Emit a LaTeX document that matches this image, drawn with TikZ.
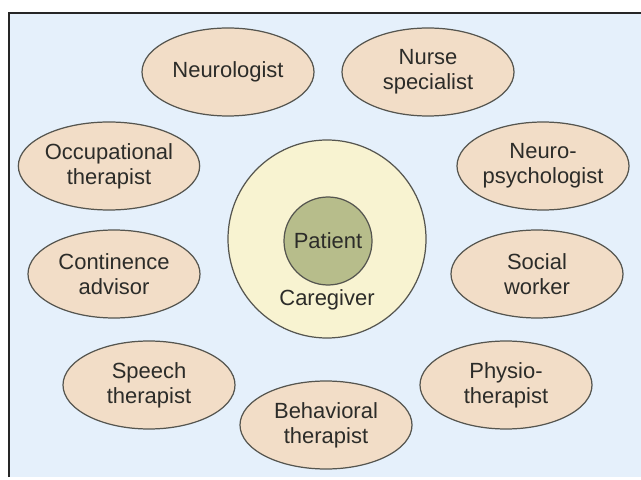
\documentclass[tikz,border=0pt]{standalone}
\usepackage{fontspec}
\setmainfont{Liberation Sans}
\usepackage{xcolor}
\usepackage{tikz}
\usetikzlibrary{shapes.geometric,positioning}
\definecolor{teamBg}{HTML}{E5F0FB}
\definecolor{teamPeach}{HTML}{F2DDC7}
\definecolor{careYellow}{HTML}{F8F3D1}
\definecolor{patientGreen}{HTML}{B7BD8B}
\definecolor{edgeGray}{HTML}{55554F}
\definecolor{ink}{HTML}{2C2C29}

\begin{document}
\begin{tikzpicture}[font=\fontsize{12.5}{14.2}\selectfont, text=ink,
  member/.style={ellipse,draw=edgeGray,line width=0.7pt,fill=teamPeach,
    minimum width=3.44cm,minimum height=1.76cm,inner sep=0pt,align=center}]
\useasboundingbox (0,0) rectangle (12.82,9.58);
% panel
\fill[white] (0,0) rectangle (12.82,9.58);
\fill[teamBg] (0.18,0.04) rectangle (12.82,9.32);
\draw[black!85,line width=1.6pt] (0.18,0.04) -- (0.18,9.32) -- (12.82,9.32);
% caregiver ring with the patient inside
\node[circle,draw=edgeGray,line width=0.7pt,fill=careYellow,minimum size=3.96cm,inner sep=0pt] (care) at (6.54,4.80) {};
\node[circle,draw=edgeGray,line width=0.7pt,fill=patientGreen,minimum size=1.76cm,inner sep=0pt] (patient) at (6.56,4.76) {Patient};
\node (carelbl) at (6.54,3.58) {Caregiver};
% team members around
\node[member] (neuro)  at (4.56,8.14)  {Neurologist};
\node[member] (nurse)  at (8.56,8.14)  {Nurse\\specialist};
\node[member] (occup)  at (2.18,6.26)  {Occupational\\therapist};
\node[member] (npsych) at (10.86,6.26) {Neuro-\\psychologist};
\node[member] (contin) at (2.28,4.10)  {Continence\\advisor};
\node[member] (social) at (10.74,4.10) {Social\\worker};
\node[member] (speech) at (2.98,1.88)  {Speech\\therapist};
\node[member] (physio) at (10.12,1.88) {Physio-\\therapist};
\node[member] (behav)  at (6.52,1.08)  {Behavioral\\therapist};
\end{tikzpicture}
\end{document}
